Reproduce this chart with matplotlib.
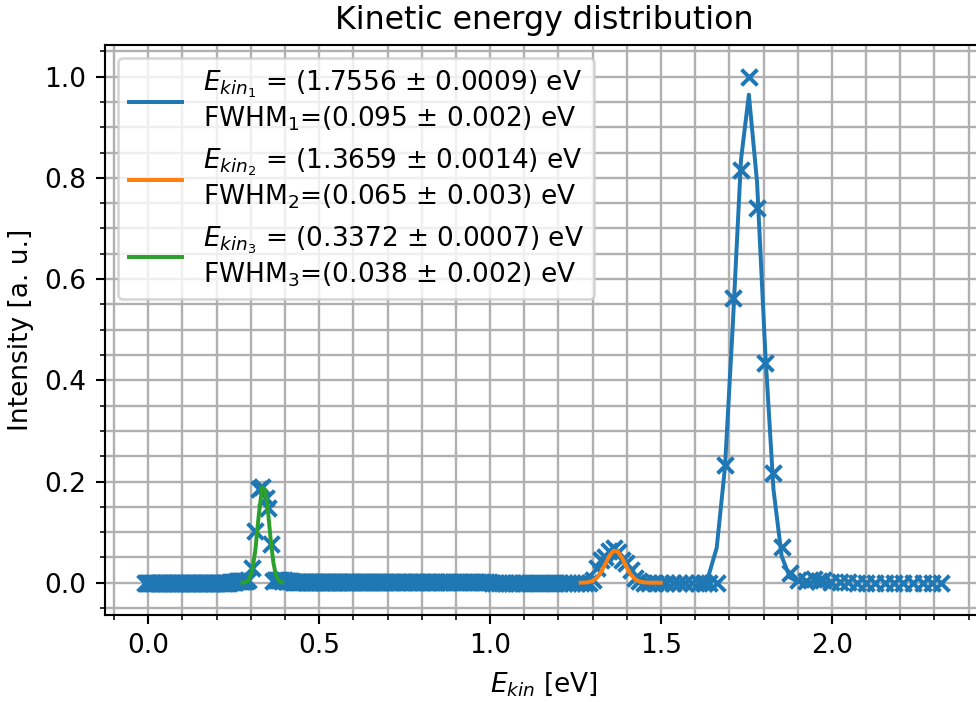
import numpy as np
from matplotlib import pyplot as plt
from matplotlib.ticker import MultipleLocator

# measured spectrum: flat background regions (intensity ~ 0)
bg_low_x = [-0.010, -0.005, 0.000, 0.005, 0.010, 0.015, 0.020, 0.025, 0.030, 0.035,
            0.040, 0.045, 0.050, 0.055, 0.060, 0.065, 0.070, 0.075, 0.080, 0.085,
            0.090, 0.095, 0.100, 0.105, 0.110, 0.115, 0.120, 0.125, 0.130, 0.135,
            0.140, 0.145, 0.150, 0.155, 0.160, 0.165, 0.170, 0.175, 0.180, 0.185,
            0.190, 0.195, 0.200, 0.205, 0.210, 0.215, 0.220, 0.225, 0.230, 0.235,
            0.240, 0.245, 0.250, 0.255, 0.260, 0.265, 0.270, 0.275, 0.280, 0.286,
            0.292]
bg_low_y = [0.0] * 50 + [0.001, 0.001, 0.002, 0.002, 0.003, 0.003, 0.004, 0.004,
                         0.004, 0.004, 0.005]
bg_mid_x = [0.372, 0.377, 0.382, 0.387, 0.392, 0.397, 0.402, 0.407, 0.412, 0.417,
            0.422, 0.427, 0.432, 0.437, 0.442, 0.447, 0.452, 0.457, 0.462, 0.467,
            0.472, 0.477, 0.482, 0.487, 0.492, 0.497, 0.502, 0.507, 0.512, 0.517,
            0.522, 0.527, 0.532, 0.537, 0.542, 0.547, 0.552, 0.557, 0.562, 0.567,
            0.572, 0.577, 0.582, 0.587, 0.592, 0.597, 0.603, 0.609, 0.615, 0.621,
            0.627, 0.633, 0.639, 0.645, 0.651, 0.657, 0.663, 0.669, 0.675, 0.681,
            0.687, 0.693, 0.699, 0.706, 0.713, 0.720, 0.727, 0.734, 0.741, 0.748,
            0.755, 0.762, 0.769, 0.776, 0.783, 0.790, 0.797, 0.804, 0.811, 0.818,
            0.825, 0.832, 0.839, 0.846, 0.853, 0.860, 0.868, 0.876, 0.884, 0.892,
            0.900, 0.908, 0.916, 0.924, 0.932, 0.940, 0.948, 0.956, 0.964, 0.972,
            0.980, 0.988, 0.996]
bg_mid_y = [0.006, 0.005, 0.006, 0.005, 0.004, 0.005, 0.004, 0.004, 0.003, 0.003] \
    + [0.002] * 20 + [0.001] * 73
bg_high_x = [1.005, 1.015, 1.025, 1.035, 1.045, 1.055, 1.065, 1.075, 1.085, 1.095,
             1.106, 1.117, 1.128, 1.139, 1.150, 1.161, 1.172, 1.183, 1.194, 1.205,
             1.217, 1.229, 1.241, 1.253, 1.265, 1.277, 1.289,
             1.450, 1.466, 1.482, 1.499, 1.516, 1.534, 1.552, 1.571, 1.590, 1.610,
             1.625]
bg_tail_x = [1.949, 1.962, 1.973, 1.998, 2.023, 2.048, 2.074, 2.100, 2.127, 2.154,
             2.181, 2.209, 2.237, 2.265, 2.294, 2.318]
bg_tail_y = [0.008, 0.004, 0.006, 0.002, 0.001, 0.001, 0.0, 0.0, 0.0, 0.0,
             0.0, 0.0, 0.0, 0.0, 0.0, 0.0]

# peaks
peak3_x = [0.303, 0.313, 0.323, 0.333, 0.343, 0.350, 0.358, 0.366]
peak3_y = [0.030, 0.102, 0.185, 0.190, 0.168, 0.148, 0.076, 0.004]
peak2_x = [1.300, 1.312, 1.325, 1.337, 1.349, 1.361, 1.373, 1.386, 1.398, 1.411,
           1.424, 1.437]
peak2_y = [0.005, 0.030, 0.045, 0.050, 0.063, 0.068, 0.060, 0.045, 0.038, 0.025,
           0.010, 0.003]
peak1_x = [1.640, 1.663, 1.687, 1.710, 1.734, 1.757, 1.781, 1.805, 1.829, 1.853,
           1.877, 1.901, 1.925]
peak1_y = [0.0, 0.0, 0.233, 0.562, 0.816, 1.000, 0.740, 0.434, 0.216, 0.071,
           0.019, 0.005, 0.003]

# gaussian fit results: amplitude, centre, FWHM, fit window
fit_amp = [0.965, 0.064, 0.195]
fit_mu = [1.7556, 1.3659, 0.3372]
fit_mu_err = [0.0009, 0.0014, 0.0007]
fit_fwhm = [0.095, 0.065, 0.038]
fit_fwhm_err = [0.002, 0.003, 0.002]
fit_window = [(1.60, 2.00), (1.265, 1.51), (0.275, 0.395)]
fit_colors = ['tab:blue', 'tab:orange', 'tab:green']

x = np.concatenate([bg_low_x, peak3_x, bg_mid_x, bg_high_x, peak2_x, peak1_x, bg_tail_x])
y = np.concatenate([bg_low_y, peak3_y, bg_mid_y, np.zeros(len(bg_high_x)),
                    peak2_y, peak1_y, bg_tail_y])
order = np.argsort(x)
x, y = x[order], y[order]


def gauss(e, a, mu, fwhm):
    sigma = fwhm / (2 * np.sqrt(2 * np.log(2)))
    return a * np.exp(-0.5 * ((e - mu) / sigma) ** 2)


DPI = 190
fig = plt.figure(figsize=(976 / DPI, 702 / DPI), dpi=DPI)
ax = fig.add_axes([105 / 976, 87 / 702, 878 / 976, 570 / 702])

ax.scatter(x, y, marker='x', color='tab:blue')

for i in range(3):
    lo, hi = fit_window[i]
    sel = (x >= lo) & (x <= hi)
    label = (r'$E_{kin_%d}$ = (%.4f ± %.4f) eV' % (i + 1, fit_mu[i], fit_mu_err[i]) + '\n'
             + r'FWHM$_%d$=(%.3f ± %.3f) eV' % (i + 1, fit_fwhm[i], fit_fwhm_err[i]))
    ax.plot(x[sel], gauss(x[sel], fit_amp[i], fit_mu[i], fit_fwhm[i]),
            c=fit_colors[i], lw=1.5, label=label)

ax.set_xlim(-0.1267, 2.442)
ax.set_ylim(-0.0638, 1.0626)
ax.xaxis.set_minor_locator(MultipleLocator(0.1))
ax.yaxis.set_minor_locator(MultipleLocator(0.05))
ax.grid(which='both', lw=0.9)
ax.set_axisbelow(True)

ax.set_title('Kinetic energy distribution')
ax.set_xlabel(r'$E_{kin}$ [eV]')
ax.set_ylabel('Intensity [a. u.]')
ax.legend(loc='upper left')

fig.savefig('out.png', dpi=DPI)
